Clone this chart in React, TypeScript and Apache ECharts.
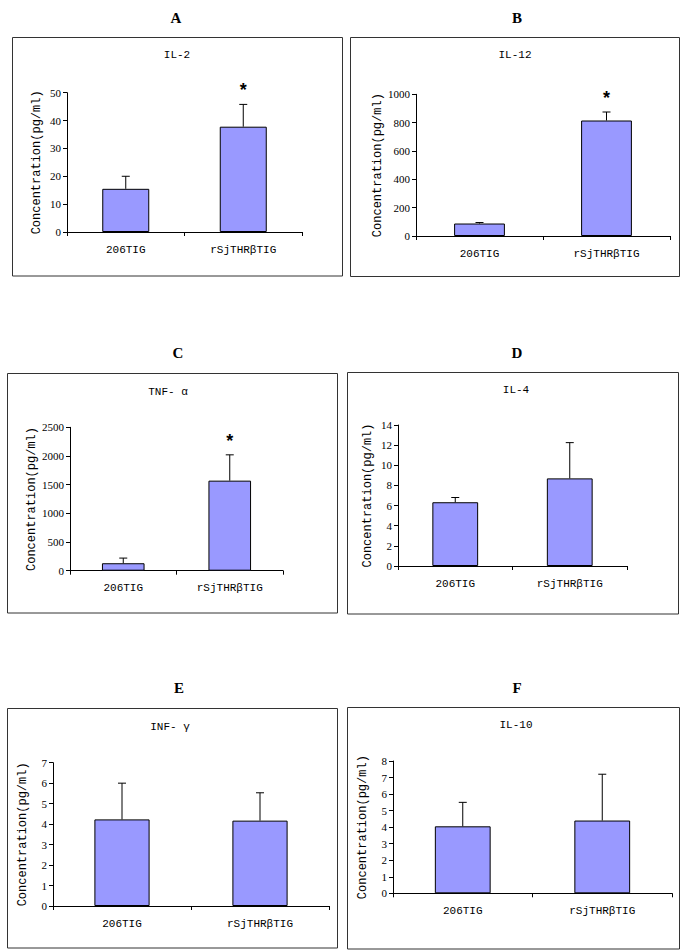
import React, { useEffect, useRef } from "react";
import * as echarts from "echarts";

// ---- data ----
const CATEGORIES = ["206TIG", "rSjTHRβTIG"];
const PANEL_LETTERS = ["A", "B", "C", "D", "E", "F"];
const CYTOKINES = ["IL-2", "IL-12", "TNF- α", "IL-4", "INF- γ", "IL-10"];
const IL2_MEAN = [15.5, 37.8];
const IL2_SD = [4.5, 8.0];
const IL12_MEAN = [88, 815];
const IL12_SD = [7, 60];
const TNF_MEAN = [130, 1570];
const TNF_SD = [90, 450];
const IL4_MEAN = [6.33, 8.7];
const IL4_SD = [0.47, 3.55];
const INF_MEAN = [4.23, 4.17];
const INF_SD = [1.77, 1.36];
const IL10_MEAN = [4.05, 4.4];
const IL10_SD = [1.45, 2.8];
const Y_MAX = [50, 1000, 2500, 14, 7, 8];
const Y_STEP = [10, 200, 500, 2, 1, 1];
const SIGNIFICANT = [
  [false, true],
  [false, true],
  [false, true],
  [false, false],
  [false, false],
  [false, false],
];
const Y_NAME = "Concentration(pg/ml)";

const MEANS = [IL2_MEAN, IL12_MEAN, TNF_MEAN, IL4_MEAN, INF_MEAN, IL10_MEAN];
const SDS = [IL2_SD, IL12_SD, TNF_SD, IL4_SD, INF_SD, IL10_SD];

// ---- layout ----
const LAYOUT = [
  { box: [12.5, 37.5, 330, 238.5], grid: [67, 92.7, 235, 139.3], title: [176, 18], sub: [177, 55] },
  { box: [350.5, 37.5, 329, 239], grid: [416, 94.3, 254, 141.7], title: [517, 18], sub: [515, 55] },
  { box: [7.5, 373.5, 330, 239.5], grid: [70, 427.3, 213, 143.4], title: [178, 353], sub: [168, 392] },
  { box: [347.5, 372.5, 331, 241.5], grid: [398, 425, 229, 141], title: [517, 353], sub: [516, 390] },
  { box: [7.5, 708.5, 330, 239.5], grid: [53, 762.7, 276, 143.3], title: [179, 688], sub: [170, 727] },
  { box: [347.5, 707.5, 332, 241.5], grid: [393, 761, 279, 132.3], title: [517, 688], sub: [516, 725] },
];

const SERIF = "'Liberation Serif', 'Times New Roman', serif";
const MONO = "'Liberation Mono', 'Courier New', monospace";

export default function App() {
  const ref = useRef<HTMLDivElement>(null);
  useEffect(() => {
    if (!ref.current) return;
    const chart = echarts.init(ref.current, undefined, { renderer: "svg" });
    const grid: any[] = [];
    const xAxis: any[] = [];
    const yAxis: any[] = [];
    const series: any[] = [];
    const graphic: any[] = [];
    LAYOUT.forEach((L, i) => {
      grid.push({ left: L.grid[0], top: L.grid[1], width: L.grid[2], height: L.grid[3] });
      xAxis.push({
        type: "category",
        gridIndex: i,
        data: CATEGORIES,
        axisLine: { lineStyle: { color: "#000", width: 1 } },
        axisTick: { show: true, length: 4, lineStyle: { color: "#000" } },
        axisLabel: { color: "#000", fontFamily: MONO, fontSize: 11, margin: 12 },
      });
      yAxis.push({
        type: "value",
        gridIndex: i,
        min: 0,
        max: Y_MAX[i],
        interval: Y_STEP[i],
        name: Y_NAME,
        nameLocation: "middle",
        nameGap: 24,
        nameTextStyle: { color: "#000", fontFamily: MONO, fontSize: 12 },
        axisLine: { show: true, lineStyle: { color: "#000", width: 1 } },
        axisTick: { show: true, length: 4, lineStyle: { color: "#000" } },
        axisLabel: {
          color: "#000",
          fontFamily: SERIF,
          fontSize: 11,
          margin: 6,
          formatter: (v: number) => String(v),
        },
        splitLine: { show: false },
      });
      series.push({
        type: "bar",
        xAxisIndex: i,
        yAxisIndex: i,
        barWidth: "40%",
        data: MEANS[i],
        itemStyle: { color: "#9999ff", borderColor: "#000", borderWidth: 1 },
        z: 2,
      });
      const sig = SIGNIFICANT[i];
      series.push({
        type: "custom",
        xAxisIndex: i,
        yAxisIndex: i,
        z: 3,
        data: MEANS[i].map((m, k) => [k, m, m + SDS[i][k]]),
        renderItem: (params: any, api: any) => {
          const p0 = api.coord([api.value(0), api.value(1)]);
          const p1 = api.coord([api.value(0), api.value(2)]);
          const children: any[] = [
            { type: "line", shape: { x1: p0[0], y1: p0[1], x2: p1[0], y2: p1[1] }, style: { stroke: "#000", lineWidth: 1 } },
            { type: "line", shape: { x1: p1[0] - 4, y1: p1[1], x2: p1[0] + 4, y2: p1[1] }, style: { stroke: "#000", lineWidth: 1 } },
          ];
          if (sig[params.dataIndex]) {
            children.push({
              type: "text",
              x: p1[0],
              y: p1[1] - 14,
              style: {
                text: "*",
                fill: "#000",
                font: "bold 18px 'Liberation Sans', sans-serif",
                textAlign: "center",
                textVerticalAlign: "middle",
              },
            });
          }
          return { type: "group", children };
        },
      });
      graphic.push({
        type: "rect",
        shape: { x: L.box[0], y: L.box[1], width: L.box[2], height: L.box[3] },
        style: { fill: "none", stroke: "#333", lineWidth: 1 },
        silent: true,
      });
      graphic.push({
        type: "text",
        x: L.title[0],
        y: L.title[1],
        style: {
          text: PANEL_LETTERS[i],
          fill: "#000",
          font: `bold 15px ${SERIF}`,
          textAlign: "center",
          textVerticalAlign: "middle",
        },
      });
      graphic.push({
        type: "text",
        x: L.sub[0],
        y: L.sub[1],
        style: {
          text: CYTOKINES[i],
          fill: "#000",
          font: `11px ${MONO}`,
          textAlign: "center",
          textVerticalAlign: "middle",
        },
      });
    });
    chart.setOption({
      animation: false,
      backgroundColor: "#fff",
      grid,
      xAxis,
      yAxis,
      series,
      graphic,
    });
    return () => chart.dispose();
  }, []);
  return (
    <div
      ref={ref}
      style={{ position: "fixed", left: 0, top: 0, width: 685, height: 951, background: "#fff" }}
    />
  );
}
